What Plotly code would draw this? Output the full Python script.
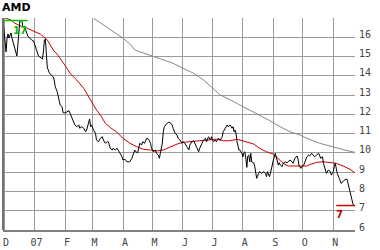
import plotly.graph_objects as go
import pandas as pd

ticker = "AMD"

close_dates = [
    "2006-11-30", "2006-12-01", "2006-12-02", "2006-12-03", "2006-12-04", "2006-12-05", "2006-12-06", "2006-12-08",
    "2006-12-09", "2006-12-11", "2006-12-13", "2006-12-14", "2006-12-15", "2006-12-16", "2006-12-17", "2006-12-19",
    "2006-12-20", "2006-12-22", "2006-12-23", "2006-12-25", "2006-12-27", "2006-12-29", "2006-12-31",
    "2007-01-02", "2007-01-03", "2007-01-05", "2007-01-07", "2007-01-09", "2007-01-10", "2007-01-11", "2007-01-12",
    "2007-01-13", "2007-01-14", "2007-01-15", "2007-01-16", "2007-01-18", "2007-01-20", "2007-01-21", "2007-01-22",
    "2007-01-24", "2007-01-25", "2007-01-26", "2007-01-27", "2007-01-29", "2007-01-30",
    "2007-02-01", "2007-02-03", "2007-02-05", "2007-02-06", "2007-02-08", "2007-02-10", "2007-02-11", "2007-02-13",
    "2007-02-15", "2007-02-16", "2007-02-18", "2007-02-20", "2007-02-22", "2007-02-23", "2007-02-25", "2007-02-26",
    "2007-02-27", "2007-02-28",
    "2007-03-02", "2007-03-04", "2007-03-05", "2007-03-07", "2007-03-09", "2007-03-11", "2007-03-12", "2007-03-14",
    "2007-03-16", "2007-03-17", "2007-03-19", "2007-03-21", "2007-03-22", "2007-03-24", "2007-03-26", "2007-03-27",
    "2007-03-29", "2007-03-31",
    "2007-04-01", "2007-04-03", "2007-04-05", "2007-04-07", "2007-04-08", "2007-04-10", "2007-04-12", "2007-04-13",
    "2007-04-14", "2007-04-16", "2007-04-17", "2007-04-18", "2007-04-20", "2007-04-21", "2007-04-23", "2007-04-24",
    "2007-04-25", "2007-04-27", "2007-04-29", "2007-04-30",
    "2007-05-02", "2007-05-04", "2007-05-05", "2007-05-07", "2007-05-08", "2007-05-09", "2007-05-11", "2007-05-12",
    "2007-05-13", "2007-05-16", "2007-05-17", "2007-05-19", "2007-05-21", "2007-05-22", "2007-05-24", "2007-05-26",
    "2007-05-27", "2007-05-29", "2007-05-31",
    "2007-06-01", "2007-06-03", "2007-06-05", "2007-06-07", "2007-06-08", "2007-06-10", "2007-06-12", "2007-06-13",
    "2007-06-15", "2007-06-17", "2007-06-18", "2007-06-20", "2007-06-22", "2007-06-24", "2007-06-25", "2007-06-27",
    "2007-06-29", "2007-06-30",
    "2007-07-02", "2007-07-04", "2007-07-05", "2007-07-07", "2007-07-09", "2007-07-11", "2007-07-12", "2007-07-14",
    "2007-07-16", "2007-07-17", "2007-07-19", "2007-07-21", "2007-07-22", "2007-07-23", "2007-07-24", "2007-07-25",
    "2007-07-26", "2007-07-28", "2007-07-29", "2007-07-31",
    "2007-08-01", "2007-08-02", "2007-08-03", "2007-08-04", "2007-08-05", "2007-08-06", "2007-08-07", "2007-08-08",
    "2007-08-09", "2007-08-10", "2007-08-12", "2007-08-13", "2007-08-15", "2007-08-17", "2007-08-18", "2007-08-20",
    "2007-08-22", "2007-08-24", "2007-08-25", "2007-08-26", "2007-08-28", "2007-08-29", "2007-08-31",
    "2007-09-01", "2007-09-03", "2007-09-04", "2007-09-05", "2007-09-06", "2007-09-07", "2007-09-08", "2007-09-10",
    "2007-09-11", "2007-09-13", "2007-09-15", "2007-09-16", "2007-09-18", "2007-09-20", "2007-09-21", "2007-09-23",
    "2007-09-25", "2007-09-26", "2007-09-27", "2007-09-29", "2007-09-30",
    "2007-10-02", "2007-10-03", "2007-10-05", "2007-10-07", "2007-10-08", "2007-10-10", "2007-10-12", "2007-10-13",
    "2007-10-15", "2007-10-17", "2007-10-18", "2007-10-19", "2007-10-21", "2007-10-22", "2007-10-24", "2007-10-25",
    "2007-10-27", "2007-10-29", "2007-10-30",
    "2007-11-01", "2007-11-02", "2007-11-03", "2007-11-04", "2007-11-05", "2007-11-07", "2007-11-08", "2007-11-09",
    "2007-11-11", "2007-11-13", "2007-11-15", "2007-11-16", "2007-11-17", "2007-11-19", "2007-11-20", "2007-11-21",
    "2007-11-22",
]
close_values = [
    16.81, 16.38, 15.86, 15.24, 15.96, 16.17, 15.96, 16.22, 15.96, 15.60, 15.24, 15.03, 15.60, 16.48, 16.85, 16.87,
    16.59, 16.48, 16.38, 16.07, 15.96, 15.86, 15.81,
    15.55, 15.34, 15.03, 14.93, 14.87, 15.24, 15.86, 15.91, 14.82, 14.41, 14.30, 14.15, 14.04, 13.94, 13.78, 13.44,
    13.18, 12.90, 12.57, 12.49, 12.40, 12.09,
    12.07, 12.14, 12.19, 12.07, 11.80, 11.54, 11.45, 11.36, 11.45, 11.28, 11.36, 11.28, 11.10, 11.19, 11.54, 11.76,
    11.36, 11.45,
    11.19, 11.02, 10.67, 10.58, 10.76, 10.84, 10.67, 10.50, 10.58, 10.58, 10.24, 10.15, 10.24, 10.15, 10.24, 10.13,
    9.98, 9.80,
    9.63, 9.67, 9.54, 9.54, 9.54, 9.72, 9.98, 10.15, 10.06, 10.01, 10.24, 10.50, 10.41, 10.58, 10.50, 10.71,
    10.76, 10.71, 10.50, 10.24,
    10.06, 10.15, 9.98, 9.89, 9.72, 9.98, 10.50, 11.10, 11.36, 11.54, 11.59, 11.57, 11.45, 11.28, 11.02, 10.93,
    10.76, 10.67, 10.50,
    10.58, 10.50, 10.32, 10.15, 10.41, 10.58, 10.63, 10.50, 10.24, 10.06, 10.24, 10.50, 10.67, 10.76, 10.58, 10.84,
    10.67, 10.84,
    10.58, 10.67, 10.58, 10.76, 10.67, 10.84, 11.10, 11.28, 11.45, 11.36, 11.45, 11.28, 11.36, 11.10, 11.19, 11.02,
    10.58, 10.15, 10.15, 9.98,
    9.79, 10.01, 10.06, 9.74, 9.25, 9.84, 9.89, 9.53, 9.98, 9.53, 9.48, 9.32, 8.68, 8.94, 9.03, 8.94,
    9.03, 8.94, 8.77, 9.03, 8.77, 8.94, 9.46,
    9.63, 9.98, 9.72, 9.54, 9.37, 9.49, 9.37, 9.29, 9.46, 9.54, 9.49, 9.54, 9.63, 9.54, 9.46, 9.72,
    9.84, 9.72, 9.37, 9.20, 9.29,
    9.37, 9.54, 9.80, 9.89, 9.84, 9.98, 9.89, 9.80, 9.89, 9.98, 9.89, 9.72, 9.80, 9.46, 9.11, 8.94,
    9.11, 9.03, 8.85,
    9.03, 9.29, 9.46, 9.20, 8.94, 8.68, 8.51, 8.42, 8.51, 8.63, 8.63, 8.42, 8.08, 7.73, 7.47, 7.35,
    7.27,
]

ma_fast_dates = [
    "2006-12-02", "2006-12-08", "2006-12-12", "2006-12-17", "2006-12-23", "2006-12-28", "2007-01-02", "2007-01-07",
    "2007-01-10", "2007-01-14", "2007-01-17", "2007-01-20", "2007-01-24", "2007-01-27", "2007-01-30", "2007-02-03",
    "2007-02-06", "2007-02-13", "2007-02-20", "2007-02-27", "2007-03-02", "2007-03-05", "2007-03-09", "2007-03-14",
    "2007-03-19", "2007-03-26", "2007-04-01", "2007-04-08", "2007-04-15", "2007-04-22", "2007-04-29", "2007-05-05",
    "2007-05-12", "2007-05-19", "2007-05-26", "2007-06-01", "2007-06-08", "2007-06-15", "2007-06-22", "2007-06-29",
    "2007-07-05", "2007-07-12", "2007-07-19", "2007-07-26", "2007-08-01", "2007-08-05", "2007-08-12", "2007-08-18",
    "2007-08-25", "2007-09-01", "2007-09-06", "2007-09-11", "2007-09-16", "2007-09-21", "2007-09-28", "2007-10-05",
    "2007-10-10", "2007-10-15", "2007-10-22", "2007-10-29", "2007-11-04", "2007-11-11", "2007-11-18", "2007-11-23",
]
ma_fast_values = [
    17.00, 16.90, 16.73, 16.60, 16.50, 16.38, 16.29, 16.16,
    16.03, 15.86, 15.60, 15.34, 15.12, 14.91, 14.65, 14.39,
    14.13, 13.78, 13.35, 12.75, 12.49, 12.23, 11.97, 11.54,
    11.32, 11.06, 10.76, 10.50, 10.32, 10.19, 10.15, 10.10,
    10.15, 10.32, 10.46, 10.55, 10.58, 10.63, 10.63, 10.67,
    10.71, 10.63, 10.63, 10.71, 10.63, 10.58, 10.46, 10.24,
    10.06, 9.94, 9.72, 9.46, 9.32, 9.32, 9.32, 9.32,
    9.43, 9.51, 9.54, 9.49, 9.46, 9.32, 9.15, 8.97,
]

ma_slow_dates = [
    "2007-03-02", "2007-03-12", "2007-03-22", "2007-04-01", "2007-04-08", "2007-04-13", "2007-04-18", "2007-04-25",
    "2007-05-02", "2007-05-12", "2007-05-22", "2007-06-01", "2007-06-12", "2007-06-22", "2007-06-30", "2007-07-09",
    "2007-07-19", "2007-07-29", "2007-08-08", "2007-08-18", "2007-08-27", "2007-09-08", "2007-09-18", "2007-09-28",
    "2007-10-05", "2007-10-18", "2007-11-01", "2007-11-15", "2007-11-23",
]
ma_slow_values = [
    16.99, 16.64, 16.29, 15.95, 15.65, 15.34, 15.25, 15.13,
    14.99, 14.82, 14.65, 14.39, 14.13, 13.78, 13.42, 13.01,
    12.75, 12.49, 12.23, 11.97, 11.71, 11.36, 11.10, 10.93,
    10.76, 10.50, 10.29, 10.12, 10.03,
]

x_tick_dates = ["2006-12-01", "2007-01-01", "2007-02-01", "2007-03-01", "2007-04-01", "2007-05-01",
                "2007-06-01", "2007-07-01", "2007-08-01", "2007-09-01", "2007-10-01", "2007-11-01"]
x_tick_labels = ["D", "07", "F", "M", "A", "M", "J", "J", "A", "S", "O", "N"]
y_tick_values = [6, 7, 8, 9, 10, 11, 12, 13, 14, 15, 16]

assert len(close_dates) == len(close_values)
assert len(ma_fast_dates) == len(ma_fast_values)
assert len(ma_slow_dates) == len(ma_slow_values)

GRID = "#9a9a9a"
TICK_FONT = dict(family="DejaVu Sans Mono", size=10, color="#444444")

fig = go.Figure()
fig.add_trace(go.Scatter(x=pd.to_datetime(ma_slow_dates), y=ma_slow_values, mode="lines",
                         line=dict(color="#888888", width=1), hoverinfo="skip"))
fig.add_trace(go.Scatter(x=pd.to_datetime(ma_fast_dates), y=ma_fast_values, mode="lines",
                         line=dict(color="#cc0000", width=1), hoverinfo="skip"))
fig.add_trace(go.Scatter(x=pd.to_datetime(close_dates), y=close_values, mode="lines",
                         line=dict(color="#000000", width=1), hoverinfo="skip"))

# high / low markers derived from the data
hi_i = max(range(len(close_values)), key=lambda i: close_values[i])
lo_i = min(range(len(close_values)), key=lambda i: close_values[i])
hi, lo = close_values[hi_i], close_values[lo_i]
hi_date, lo_date = pd.Timestamp(close_dates[hi_i]), pd.Timestamp(close_dates[lo_i])

x_start = pd.Timestamp("2006-11-29 21:00")
x_end = pd.Timestamp("2007-11-23 02:00")

fig.add_shape(type="line", xref="x", yref="y", x0=x_start, x1=hi_date + pd.Timedelta(days=6),
              y0=hi, y1=hi, line=dict(color="#00c000", width=1.5))
fig.add_annotation(x=hi_date, y=hi, xref="x", yref="y", text=f"<b>{round(hi)}</b>", showarrow=False,
                   xanchor="center", yanchor="top", xshift=-2, yshift=-2,
                   font=dict(family="DejaVu Sans", size=10, color="#00c000"))

fig.add_shape(type="line", xref="x", yref="y", x0=lo_date - pd.Timedelta(days=18), x1=x_end,
              y0=lo, y1=lo, line=dict(color="#cc0000", width=1.5))
fig.add_annotation(x=lo_date - pd.Timedelta(days=18), y=lo, xref="x", yref="y", text=f"<b>{round(lo)}</b>",
                   showarrow=False, xanchor="left", yanchor="top", xshift=-2, yshift=-1,
                   font=dict(family="DejaVu Sans", size=10, color="#bb0000"))

# left frame line
fig.add_shape(type="line", xref="paper", yref="paper", x0=0, x1=0, y0=0, y1=1,
              line=dict(color="#707070", width=2))

# title
fig.add_annotation(xref="paper", yref="paper", x=0, y=1, xanchor="left", yanchor="bottom",
                   text=f"<b>{ticker}</b>", showarrow=False, xshift=-3, yshift=2,
                   font=dict(family="DejaVu Sans", size=11, color="#000000"))

fig.update_layout(
    width=380, height=250,
    margin=dict(l=3, r=25, t=18, b=20),
    paper_bgcolor="white", plot_bgcolor="white",
    showlegend=False,
    xaxis=dict(type="date", range=[x_start, x_end], tickvals=pd.to_datetime(x_tick_dates), ticktext=x_tick_labels,
               showgrid=True, gridcolor=GRID, gridwidth=1, showline=True, linecolor="#808080", linewidth=2,
               ticks="", tickfont=TICK_FONT, zeroline=False, ticklabelshift=2, ticklabelstandoff=2),
    yaxis=dict(range=[6, 17], side="right", tickvals=y_tick_values, ticktext=[str(v) for v in y_tick_values],
               showgrid=True, gridcolor=GRID, gridwidth=1, showline=False, ticks="", tickfont=TICK_FONT,
               zeroline=False, ticklabelshift=-3, ticklabelstandoff=3),
)

fig.write_html("out.html")
